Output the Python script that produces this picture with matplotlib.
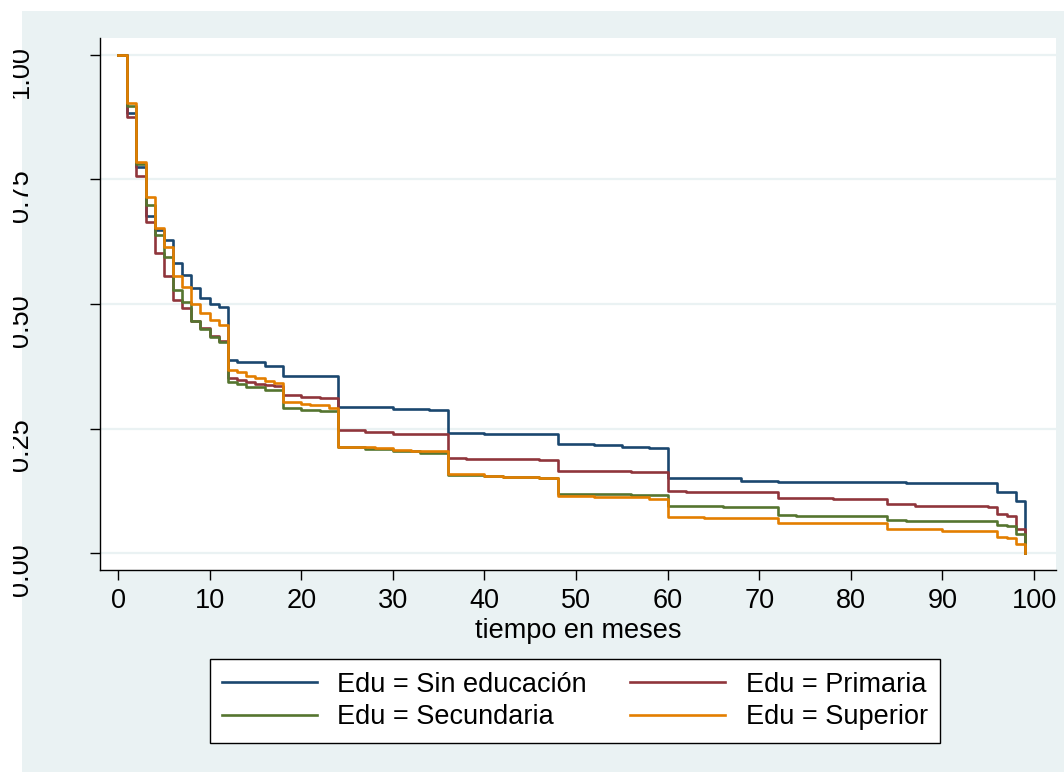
import matplotlib
matplotlib.use("Agg")
import matplotlib.pyplot as plt
from matplotlib.patches import Rectangle
from matplotlib.transforms import Bbox

plt.rcParams['font.family'] = ['Liberation Sans', 'DejaVu Sans']

# Kaplan-Meier estimates by education level (change points: month, survival)
t_sin = [0, 1, 2, 3, 4, 5, 6, 7, 8, 9, 10, 11, 12, 13, 16, 18, 24, 30, 34, 36,
         40, 48, 52, 55, 58, 60, 68, 72, 84, 86, 96, 98, 99]
s_sin = [1.0, .884, .776, .677, .649, .629, .583, .558, .533, .513, .500, .493,
         .388, .384, .376, .356, .293, .290, .287, .242, .239, .218, .217, .213,
         .211, .150, .145, .143, .142, .140, .123, .104, 0.0]

t_pri = [0, 1, 2, 3, 4, 5, 6, 7, 8, 9, 10, 11, 12, 13, 14, 15, 16, 17, 18, 20,
         22, 24, 27, 30, 36, 38, 42, 46, 48, 56, 60, 62, 72, 78, 84, 87, 90, 95,
         96, 97, 98, 99]
s_pri = [1.0, .876, .757, .664, .602, .556, .508, .491, .466, .451, .436, .426,
         .351, .348, .344, .340, .337, .335, .317, .314, .312, .247, .244, .239,
         .191, .189, .188, .187, .165, .163, .125, .122, .111, .109, .098, .095,
         .094, .093, .078, .075, .048, 0.0]

t_sec = [0, 1, 2, 3, 4, 5, 6, 7, 8, 9, 10, 11, 12, 13, 14, 16, 18, 20, 22, 24,
         27, 30, 33, 36, 40, 42, 46, 48, 56, 60, 66, 72, 74, 84, 86, 96, 97, 98,
         99]
s_sec = [1.0, .898, .782, .699, .639, .595, .528, .505, .466, .450, .434, .424,
         .344, .340, .333, .327, .292, .288, .285, .212, .209, .205, .200, .156,
         .154, .152, .150, .119, .117, .094, .093, .077, .075, .066, .065, .056,
         .054, .038, 0.0]

t_sup = [0, 1, 2, 3, 4, 5, 6, 7, 8, 9, 10, 11, 12, 13, 14, 15, 16, 17, 18, 20,
         21, 23, 24, 28, 30, 32, 36, 40, 42, 46, 48, 52, 58, 60, 64, 72, 84, 90,
         96, 97, 98, 99]
s_sup = [1.0, .903, .786, .714, .652, .615, .557, .534, .500, .481, .468, .458,
         .367, .363, .356, .351, .345, .342, .304, .300, .297, .292, .212, .210,
         .207, .205, .158, .155, .153, .150, .115, .113, .108, .072, .070, .060,
         .048, .045, .033, .031, .019, 0.0]

labels = ['Edu = Sin educación', 'Edu = Primaria', 'Edu = Secundaria', 'Edu = Superior']
colors = ['#1a476f', '#90353b', '#55752f', '#e37e00']
xticks = [0, 10, 20, 30, 40, 50, 60, 70, 80, 90, 100]
yticks = [0.0, 0.25, 0.5, 0.75, 1.0]

bg = '#eaf2f3'
W, H = 1064, 772
fs = 19.5

fig = plt.figure(figsize=(W / 100, H / 100), dpi=100)
fig.patch.set_facecolor('white')
fig.patches.append(Rectangle((22 / W, 0), 1 - 22 / W, (H - 11) / H,
                             transform=fig.transFigure, facecolor=bg,
                             edgecolor='none', zorder=-10))

ax = fig.add_axes([100 / W, (H - 570) / H, 956 / W, 532 / H])
ax.set_facecolor('white')

series = [(t_sin, s_sin), (t_pri, s_pri), (t_sec, s_sec), (t_sup, s_sup)]
lines = []
for (t, s), lab, c in zip(series, labels, colors):
    ln, = ax.step(t, s, where='post', color=c, lw=1.9, label=lab)
    lines.append(ln)

ax.set_xlim(-1.97, 102.4)
ax.set_ylim(-0.034, 1.034)
ax.set_xticks(xticks)
ax.set_yticks(yticks)
ax.set_yticklabels([f'{v:.2f}' for v in yticks])
for v in yticks:
    ax.axhline(v, color=bg, lw=1.6, zorder=0)

for side in ['top', 'right']:
    ax.spines[side].set_visible(False)
for side in ['left', 'bottom']:
    ax.spines[side].set_linewidth(1.0)
    ax.spines[side].set_color('black')

ax.tick_params(axis='x', length=7, width=1, labelsize=fs, pad=6)
ax.tick_params(axis='y', length=7, width=1, labelsize=fs, labelrotation=90, pad=40.3)
ax.set_xlabel('tiempo en meses', fontsize=fs, labelpad=3)

# y labels run past the left edge of the shaded region and are cut there
clip = Bbox.from_extents(13, 0, W, H)
for lbl in ax.get_yticklabels():
    lbl.set_clip_on(True)
    lbl.set_clip_box(clip)

# legend filled row by row: (Sin educación, Primaria) / (Secundaria, Superior)
order = [0, 2, 1, 3]
fig.legend([lines[i] for i in order], [labels[i] for i in order],
           loc='center', bbox_to_anchor=(575 / W, (H - 701) / H), ncol=2,
           fontsize=fs, frameon=True, fancybox=False, edgecolor='black',
           facecolor='white', framealpha=1, handlelength=3.5,
           columnspacing=1.6, handletextpad=0.75, borderpad=0.45,
           labelspacing=0.25)

fig.savefig('out.png', dpi=100, facecolor=fig.get_facecolor())
